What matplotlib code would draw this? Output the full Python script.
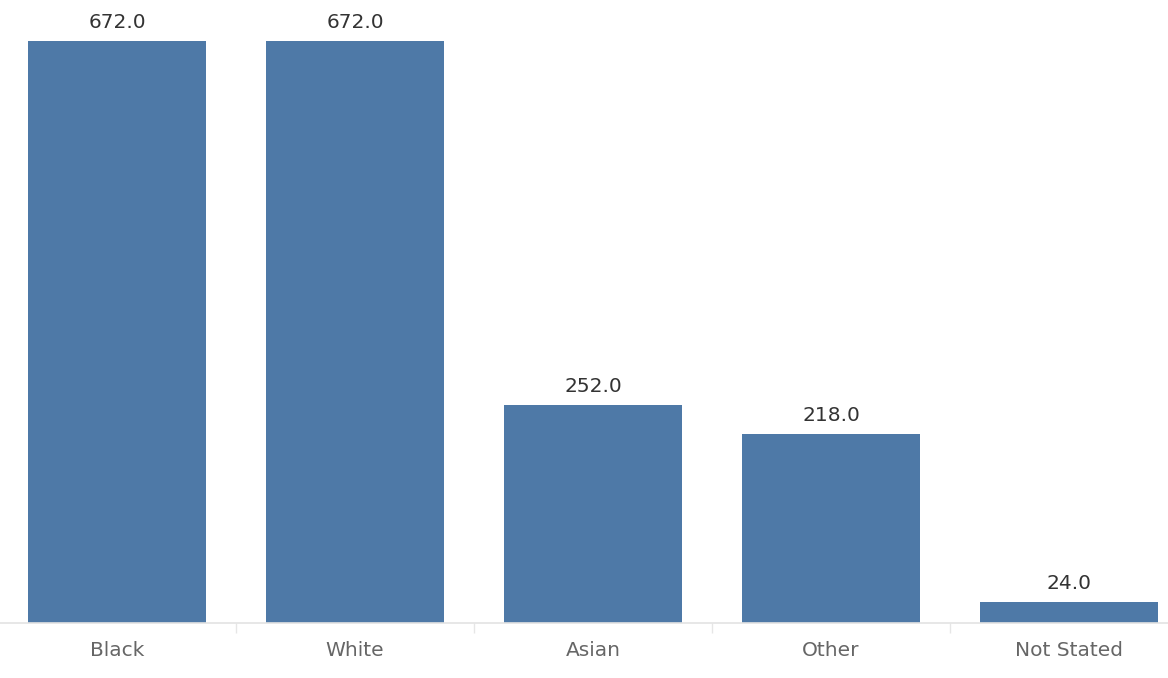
import numpy as np
import matplotlib.pyplot as plt

categories = ['Black', 'White', 'Asian', 'Other', 'Not Stated']
values = [672.0, 672.0, 252.0, 218.0, 24.0]

BAR_COLOR = '#4e79a7'

def main():
    plt.rcParams['font.family'] = ['DejaVu Sans']
    fig = plt.figure(figsize=(11.68, 6.78), dpi=100)
    ax = fig.add_axes([0, 55 / 678, 1, 623 / 678])

    x = np.arange(len(categories))
    bars = ax.bar(x, values, width=0.748, color=BAR_COLOR, zorder=2)
    for b, v in zip(bars, values):
        ax.annotate(f'{v:.1f}', (b.get_x() + b.get_width() / 2, v),
                    xytext=(0, 6.5), textcoords='offset points',
                    ha='center', va='bottom', fontsize=14.5, color='#333333')

    ax.set_xlim((0 - 117) / 238, (1168 - 117) / 238)
    ax.set_ylim(0, 672 * 623 / 582)

    for s in ['top', 'right', 'left']:
        ax.spines[s].set_visible(False)
    ax.spines['bottom'].set_color('#e3e3e3')
    ax.spines['bottom'].set_linewidth(1.2)
    ax.set_yticks([])

    # separators between categories
    ax.set_xticks(x[:-1] + 0.5, minor=True)
    ax.tick_params(axis='x', which='minor', length=7, color='#e6e6e6', width=1)
    ax.set_xticks(x)
    ax.set_xticklabels(categories, fontsize=14.5, color='#666666')
    ax.tick_params(axis='x', which='major', length=0, pad=13)

    fig.savefig('out.png', dpi=100)

if __name__ == "__main__":
    main()
